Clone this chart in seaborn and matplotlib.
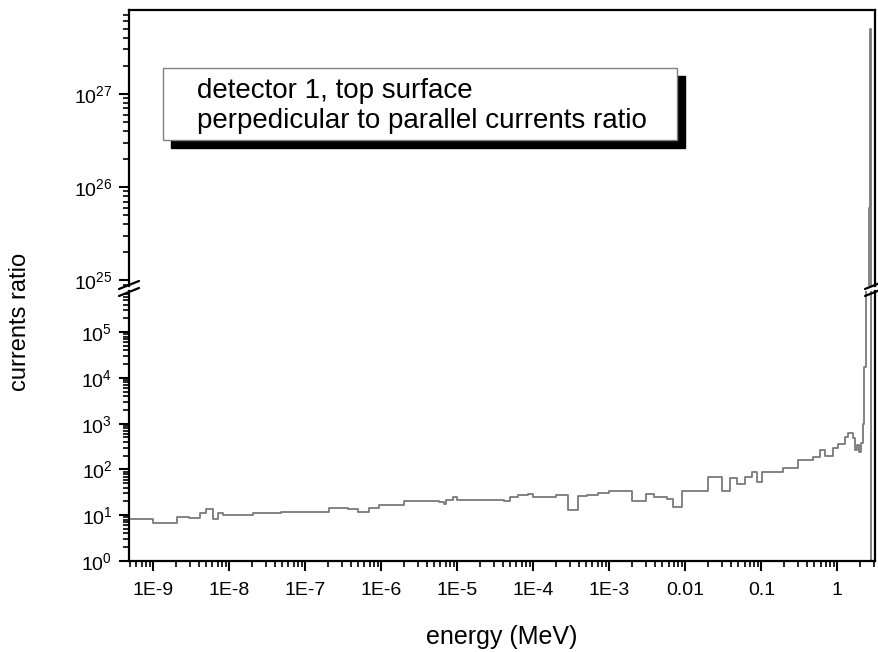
import numpy as np
import pandas as pd
import matplotlib
matplotlib.use("Agg")
import matplotlib.pyplot as plt
import seaborn as sns
from matplotlib.ticker import LogLocator, NullFormatter, FixedLocator, FixedFormatter
from matplotlib.lines import Line2D
from matplotlib.patches import Rectangle

# ---- data (bin edges in MeV, bin values = current ratio) ----
energy_edges = [4.8e-10, 1.0e-9, 2.05e-9, 2.94e-9, 4.1e-9, 4.9e-9, 6.1e-9, 7.1e-9, 8.2e-9,
                2.04e-8, 4.76e-8, 5.9e-8, 2.04e-7, 3.6e-7, 5.0e-7, 6.8e-7, 9.2e-7, 1.97e-6,
                5.7e-6, 6.6e-6, 7.0e-6, 8.7e-6, 1.0e-5, 4.06e-5, 5.0e-5, 6.2e-5, 8.4e-5, 1.0e-4,
                2.0e-4, 2.9e-4, 3.9e-4, 5.15e-4, 7.0e-4, 1.0e-3, 2.0e-3, 3.0e-3, 3.9e-3, 5.8e-3,
                6.95e-3, 9.1e-3, 0.02, 0.0306, 0.039, 0.048, 0.061, 0.076, 0.088, 0.103, 0.194,
                0.305, 0.48, 0.594, 0.69, 0.88, 1.03, 1.26, 1.39, 1.61, 1.71, 1.82, 1.93, 2.06,
                2.18, 2.24, 2.38, 2.59, 2.70, 2.78, 3.14]
ratio_values = [8.3, 6.8, 9.1, 8.7, 11.2, 13.6, 8.3, 11, 10, 11, 11.7, 11.5, 14.3, 13.5, 11.7,
                14.5, 16.6, 20, 19, 17.5, 21, 25, 21, 20.5, 25, 27.5, 29, 25, 27.5, 13, 26, 27.5,
                30, 33.5, 20.5, 29, 25, 22.5, 15, 33.5, 68, 33.5, 65, 48, 68, 87, 53, 87, 107,
                160, 186, 262, 195, 295, 355, 510, 620, 490, 262, 350, 240, 380, 1000, 1.7e4,
                1e10, 6e25, 5e27, 0.1]

xtick_values = [1e-9, 1e-8, 1e-7, 1e-6, 1e-5, 1e-4, 1e-3, 0.01, 0.1, 1]
xtick_labels = ["1E-9", "1E-8", "1E-7", "1E-6", "1E-5", "1E-4", "1E-3", "0.01", "0.1", "1"]
legend_lines = ["detector 1, top surface", "perpedicular to parallel currents ratio"]
x_label = "energy (MeV)"
y_label = "currents ratio"

sns.set_style("white")
plt.rcParams["font.family"] = ["Liberation Sans", "DejaVu Sans"]
plt.rcParams["mathtext.fontset"] = "custom"
plt.rcParams["mathtext.rm"] = "Liberation Sans"
for k in ("text.color", "axes.labelcolor", "xtick.color", "ytick.color"):
    plt.rcParams[k] = "black"

df = pd.DataFrame({"energy": energy_edges, "ratio": ratio_values + [ratio_values[-1]]})

W, H = 879, 652
fig = plt.figure(figsize=(W / 100, H / 100), dpi=100)

def fx(px):
    return px / W

def fy(py):
    return 1 - py / H

xl, xr = 129, 875
up_top, up_bot = 10, 286
lo_top, lo_bot = 291, 561

ax_up = fig.add_axes([fx(xl), fy(up_bot), fx(xr) - fx(xl), fy(up_top) - fy(up_bot)])
ax_lo = fig.add_axes([fx(xl), fy(lo_bot), fx(xr) - fx(xl), fy(lo_top) - fy(lo_bot)])

xlim = (10 ** -9.32, 10 ** 0.495)
line_color = "#7a7a7a"
for ax in (ax_up, ax_lo):
    ax.set_xscale("log")
    ax.set_yscale("log")
    sns.lineplot(data=df, x="energy", y="ratio", ax=ax, drawstyle="steps-post",
                 color=line_color, lw=1.3, estimator=None, sort=False)
    ax.set_xlim(*xlim)
    ax.set_xlabel("")
    ax.set_ylabel("")
    for s in ax.spines.values():
        s.set_color("black")
        s.set_linewidth(1.6)
    ax.yaxis.set_major_locator(LogLocator(base=10, numticks=50))
    ax.yaxis.set_minor_locator(LogLocator(base=10, subs=np.arange(2, 10), numticks=100))
    ax.yaxis.set_minor_formatter(NullFormatter())
    ax.tick_params(axis="y", which="major", direction="out", length=7, width=1.5,
                   labelsize=14, left=True, right=False, pad=5, colors="black")
    ax.tick_params(axis="y", which="minor", direction="out", length=4, width=1.2,
                   left=True, right=False, colors="black")
    ax.set_facecolor("white")

ax_up.set_ylim(10 ** 24.94, 10 ** 27.9)
ax_lo.set_ylim(1, 10 ** 5.9)

ax_up.spines["bottom"].set_visible(False)
ax_up.tick_params(axis="x", which="both", bottom=False, top=False, labelbottom=False)
ax_lo.spines["top"].set_visible(False)

ax_lo.xaxis.set_major_locator(FixedLocator(xtick_values))
ax_lo.xaxis.set_major_formatter(FixedFormatter(xtick_labels))
ax_lo.xaxis.set_minor_locator(LogLocator(base=10, subs=np.arange(2, 10), numticks=100))
ax_lo.xaxis.set_minor_formatter(NullFormatter())
ax_lo.tick_params(axis="x", which="major", direction="out", length=7, width=1.5,
                  labelsize=14, bottom=True, top=False, pad=8, colors="black")
ax_lo.tick_params(axis="x", which="minor", direction="out", length=4, width=1.2,
                  bottom=True, top=False, colors="black")

ax_lo.set_xlabel(x_label, fontsize=18, labelpad=19, color="black")
fig.text(fx(20), fy(322), y_label, rotation=90, fontsize=17, ha="center", va="center",
         color="black")

# break marks
for xc in (xl, xr):
    for yc in (up_bot - 1, lo_top + 1):
        fig.add_artist(Line2D([fx(xc - 10), fx(xc + 10)], [fy(yc + 4), fy(yc - 4)],
                              color="black", lw=1.6, transform=fig.transFigure))

# legend-like text box with shadow
bx0, by0, bx1, by1 = 163, 68, 677, 140
sh = 8
fig.add_artist(Rectangle((fx(bx0 + sh), fy(by1 + sh)), fx(bx1) - fx(bx0), fy(by0) - fy(by1),
                         transform=fig.transFigure, facecolor="black", edgecolor="black",
                         zorder=5))
fig.add_artist(Rectangle((fx(bx0), fy(by1)), fx(bx1) - fx(bx0), fy(by0) - fy(by1),
                         transform=fig.transFigure, facecolor="white", edgecolor="#808080",
                         lw=1.0, zorder=6))
fig.text(fx(197), fy(91), legend_lines[0], fontsize=20, ha="left", va="center", zorder=7,
         color="black")
fig.text(fx(197), fy(121), legend_lines[1], fontsize=20, ha="left", va="center", zorder=7,
         color="black")

fig.savefig("out.png", dpi=100, facecolor="white")
